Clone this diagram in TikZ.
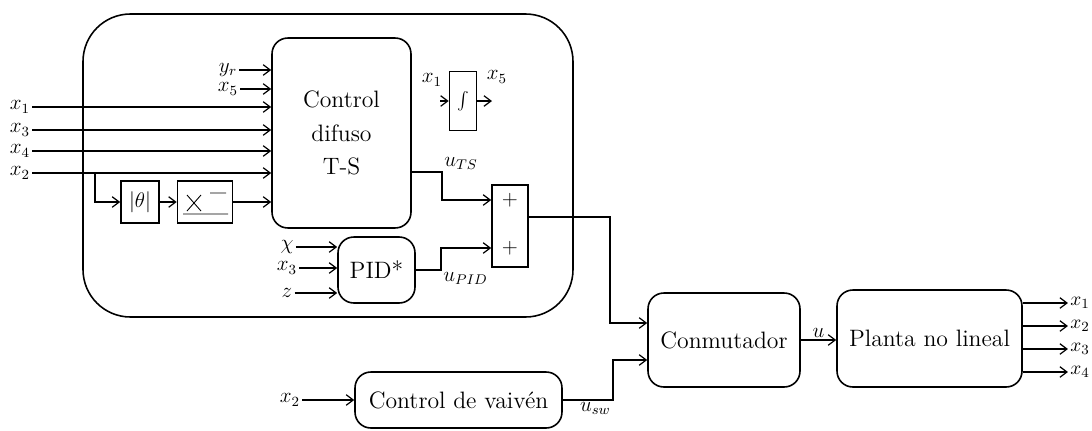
\documentclass[tikz,border=0pt]{standalone}
\usetikzlibrary{arrows.meta}
\tikzset{
  bloque/.style={draw,line width=0.9pt,rounded corners=9pt,align=center,inner sep=0pt,
    font=\fontsize{13.5}{19}\selectfont},
  caja/.style={draw,line width=0.9pt,inner sep=0pt,font=\fontsize{13}{15}\selectfont},
  senal/.style={inner sep=1pt,font=\fontsize{12}{14}\selectfont},
}

\begin{document}
\begin{tikzpicture}[x=0.02cm,y=-0.02cm,>={Straight Barb[length=4pt,width=6pt]},line width=0.7pt]
  \useasboundingbox (0,0) rectangle (1092,430);
  % marco del controlador
  \draw[line width=0.9pt,rounded corners=0.95cm] (83,14) rectangle (573,317);
  % bloques
  \node[bloque,minimum width=2.78cm,minimum height=3.8cm] (ts) at (341.5,133) {Control\\difuso\\T-S};
  \node[caja,minimum width=0.54cm,minimum height=1.18cm] (int) at (463,101) {$\int$};
  \node[caja,minimum width=0.72cm,minimum height=1.64cm] (sum) at (510,226) {};
  \node[font=\fontsize{13}{15}\selectfont] at (510,200) {$+$};
  \node[font=\fontsize{13}{15}\selectfont] at (510,248) {$+$};
  \node[bloque,minimum width=1.54cm,minimum height=1.32cm] (pid) at (376.5,270) {PID*};
  \node[caja,minimum width=0.76cm,minimum height=0.84cm] (abs) at (140,202) {$|\theta|$};
  \node[caja,minimum width=1.1cm,minimum height=0.84cm] (sat) at (205,202) {};
  \draw[line width=0.5pt] (183,214)--(228,214) (187,195)--(201,211) (187,211)--(201,195) (210,193)--(226,193);
  \node[bloque,minimum width=3.04cm,minimum height=1.88cm] (conm) at (724,340) {Conmutador};
  \node[bloque,minimum width=3.7cm,minimum height=1.94cm] (planta) at (929.5,338.5) {Planta no lineal};
  \node[bloque,minimum width=4.14cm,minimum height=1.12cm] (vaiven) at (458.5,400) {Control de vaivén};
  % entradas al control difuso
  \node[senal] (x1) at (20,107) {$x_1$};
  \node[senal] (x3) at (20,130) {$x_3$};
  \node[senal] (x4) at (20,151) {$x_4$};
  \node[senal] (x2) at (20,173) {$x_2$};
  \foreach \s in {x1,x3,x4,x2}
    \draw[->] (\s.east) -- (ts.west |- \s);
  \node[senal] (yr) at (228,70) {$y_r$};
  \node[senal] (x5) at (228,89) {$x_5$};
  \draw[->] (yr.east) -- (ts.west |- yr);
  \draw[->] (x5.east) -- (ts.west |- x5);
  \coordinate (rama) at (95,173);
  \draw[->] (rama) |- (abs.west);
  \draw[->] (abs) -- (sat);
  \draw[->] (sat) -- (ts.west |- sat);
  % integrador
  \node[senal] (xe) at (432,80) {$x_1$};
  \coordinate (xin) at (440,101);
  \draw[->] (xin) -- (int.west);
  \node[senal] (xs) at (497,77) {$x_5$};
  \coordinate (xout) at (492,101);
  \draw[->] (int.east) -- (xout);
  % salida T-S y PID al sumador
  \coordinate (uts) at (442,172);
  \node[senal,above right] at (uts) {$u_{TS}$};
  \draw[->] (ts.east |- uts) -- (uts) |- ([yshift=0.52cm]sum.west);
  \node[senal] (chi) at (287,247) {$\chi$};
  \node[senal] (x3p) at (287,268) {$x_3$};
  \node[senal] (z) at (287,293) {$z$};
  \foreach \s in {chi,x3p,z}
    \draw[->] (\s.east) -- (pid.west |- \s);
  \coordinate (upid) at (441,270);
  \node[senal,below right] at (upid) {$u_{PID}$};
  \draw[->] (pid.east) -- (upid) |- ([yshift=-0.44cm]sum.west);
  % conmutador
  \coordinate (c1) at (610,217);
  \draw[->] (sum.east |- c1) -- (c1) |- ([yshift=0.34cm]conm.west);
  \node[senal] (x2v) at (290,400) {$x_2$};
  \draw[->] (x2v.east) -- (vaiven.west);
  \coordinate (c2) at (613,400);
  \node[senal,below left] at (c2) {$u_{sw}$};
  \draw[->] (vaiven.east) -- (c2) |- ([yshift=-0.4cm]conm.west);
  \draw[->] (conm.east) -- (conm.east -| planta.west) node[senal,midway,above] {$u$};
  % salidas de la planta
  \foreach \s/\y/\n in {y1/303/1,y2/326/2,y3/349/3,y4/372/4}{
    \node[senal,font=\fontsize{11}{13}\selectfont] (\s) at (1080,\y) {$x_\n$};
    \draw[->] (planta.east |- \s) -- (\s.west);
  }
\end{tikzpicture}
\end{document}
